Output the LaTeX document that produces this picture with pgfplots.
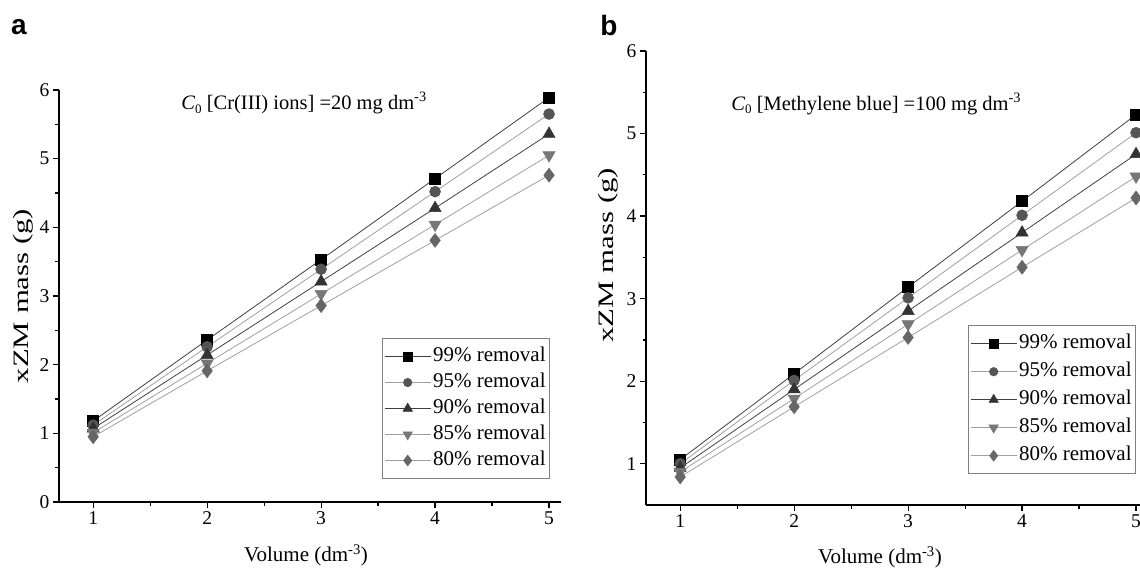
\documentclass[border=0pt]{standalone}
\usepackage{fontspec}
\setmainfont{Liberation Serif}
\newfontfamily\sansb{Liberation Sans}
\usepackage{graphicx}
\usepackage{pgfplots}
\usepackage{pgfplotstable}
\pgfplotsset{compat=1.18}

\pgfplotstableread{
V  r99  r95  r90  r85  r80
1  1.18 1.12 1.07 1.01 0.95
2  2.36 2.26 2.14 2.02 1.91
3  3.53 3.39 3.21 3.03 2.86
4  4.71 4.52 4.28 4.04 3.81
5  5.89 5.65 5.36 5.05 4.76
}\dataA

\pgfplotstableread{
V  r99  r95  r90  r85  r80
1  1.05 1.00 0.95 0.90 0.84
2  2.09 2.01 1.90 1.79 1.69
3  3.14 3.01 2.85 2.69 2.53
4  4.18 4.01 3.80 3.59 3.38
5  5.23 5.01 4.75 4.48 4.22
}\dataB

\definecolor{ln1}{HTML}{404040}
\definecolor{ln2}{HTML}{A0A0A0}
\definecolor{mk95}{HTML}{555555}
\definecolor{mk90}{HTML}{333333}
\definecolor{mk85}{HTML}{777777}
\definecolor{mk80}{HTML}{666666}

\pgfplotsset{
  panel/.style={
    scale only axis, width=502pt,
    axis x line*=bottom, axis y line*=left,
    xmin=0.70, xmax=5.105,
    xtick={1,2,3,4,5},
    minor x tick num=1, minor y tick num=1,
    tick align=outside,
    major tick length=6pt, minor tick length=3.5pt,
    every tick/.style={black, line width=1.2pt},
    axis line style={black, line width=1.3pt},
    ticklabel style={font=\fontsize{19.5}{21}\selectfont},
    /pgf/number format/assume math mode=true,
    xlabel style={font=\fontsize{21}{24}\selectfont},
    ylabel style={font=\fontsize{22}{24}\selectfont},
    xlabel={Volume (dm\textsuperscript{-3})},
    ylabel={\scalebox{1.4}[1]{xZM mass (g)}},
    clip=false,
    legend cell align=left,
    legend style={draw=gray, line width=1pt, fill=white,
      font=\fontsize{21}{24}\selectfont,
      nodes={inner ysep=0pt, text height=14pt, text depth=4pt},
      row sep=8pt, inner xsep=2pt, inner ysep=9pt},
    legend image code/.code={%
      \draw[mark repeat=2,mark phase=2, every mark/.append style={scale=0.78}]
        plot coordinates {(0pt,0pt) (23pt,0pt) (46pt,0pt)};},
  },
  s99/.style={draw=ln1, line width=0.8pt, mark=square*, mark size=5.5pt,
    mark options={solid, fill=black, draw=black, line width=0.5pt}},
  s95/.style={draw=ln2, line width=0.8pt, mark=*, mark size=5.5pt,
    mark options={solid, fill=mk95, draw=mk95, line width=0.5pt}},
  s90/.style={draw=ln1, line width=0.8pt, mark=triangle*, mark size=7pt,
    mark options={solid, fill=mk90, draw=mk90, line width=0.5pt}},
  s85/.style={draw=ln2, line width=0.8pt, mark=triangle*, mark size=7pt,
    mark options={solid, fill=mk85, draw=mk85, rotate=180, line width=0.5pt}},
  s80/.style={draw=ln2, line width=0.8pt, mark=diamond*, mark size=7pt,
    mark options={solid, fill=mk80, draw=mk80, line width=0.5pt}},
}

\begin{document}
\begin{tikzpicture}[x=1pt,y=1pt]
\useasboundingbox (0,0) rectangle (1140,-575);

\node[font=\sansb\bfseries\fontsize{28}{28}\selectfont] at (19,-27) {a};
\node[font=\sansb\bfseries\fontsize{28}{28}\selectfont] at (609,-25) {b};

% Panel a
\begin{axis}[panel, at={(59pt,-502pt)}, anchor=south west,
  height=412pt, ymin=0, ymax=6, ytick={0,1,2,3,4,5,6},
  ylabel style={at={(axis description cs:-0.072,0.5)}, anchor=center},
  xlabel style={at={(axis description cs:0.492,-0.129)}, anchor=center},
  legend style={at={(axis description cs:0.643,0.398)}, anchor=north west}]
\addplot[s99] table[x=V,y=r99] {\dataA};
\addplot[s95] table[x=V,y=r95] {\dataA};
\addplot[s90] table[x=V,y=r90] {\dataA};
\addplot[s85] table[x=V,y=r85] {\dataA};
\addplot[s80] table[x=V,y=r80] {\dataA};
\legend{99\% removal,95\% removal,90\% removal,85\% removal,80\% removal}
\node[font=\fontsize{20.5}{24}\selectfont] at (axis cs:2.85,5.81)
  {\textit{C}\raisebox{-0.4ex}{\fontsize{13}{13}\selectfont 0} [Cr(III) ions] =20 mg dm\textsuperscript{-3}};
\end{axis}

% Panel b
\begin{axis}[panel, at={(646pt,-505pt)}, anchor=south west,
  height=454pt, ymin=0.5, ymax=6, ytick={1,2,3,4,5,6},
  ylabel style={at={(axis description cs:-0.076,0.55)}, anchor=center},
  xlabel style={at={(axis description cs:0.466,-0.115)}, anchor=center},
  legend style={at={(axis description cs:0.641,0.396)}, anchor=north west,
    row sep=10pt}]
\addplot[s99] table[x=V,y=r99] {\dataB};
\addplot[s95] table[x=V,y=r95] {\dataB};
\addplot[s90] table[x=V,y=r90] {\dataB};
\addplot[s85] table[x=V,y=r85] {\dataB};
\addplot[s80] table[x=V,y=r80] {\dataB};
\legend{99\% removal,95\% removal,90\% removal,85\% removal,80\% removal}
\node[font=\fontsize{20.5}{24}\selectfont] at (axis cs:2.72,5.36)
  {\textit{C}\raisebox{-0.4ex}{\fontsize{13}{13}\selectfont 0} [Methylene blue] =100 mg dm\textsuperscript{-3}};
\end{axis}
\end{tikzpicture}
\end{document}
